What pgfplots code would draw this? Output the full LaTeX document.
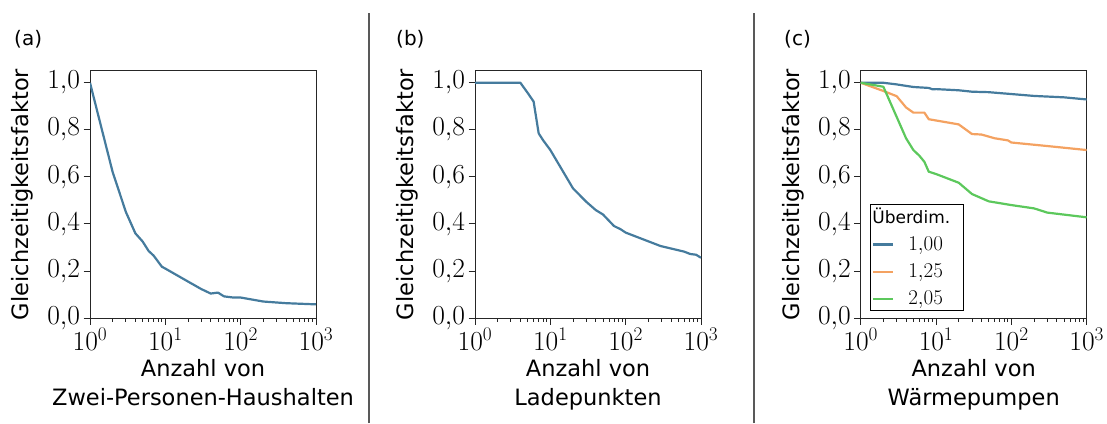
\RequirePackage{fix-cm}
\documentclass[border=0pt]{standalone}
\usepackage{fontspec}
\setmainfont{DejaVu Sans}
\usepackage{pgfplots}
\pgfplotsset{compat=1.18}
\definecolor{cblue}{HTML}{457B9D}
\definecolor{corange}{HTML}{F4A261}
\definecolor{cgreen}{HTML}{5CC85C}

\pgfplotsset{
  every axis/.append style={
    xmode=log, log basis x=10,
    scale only axis, width=226pt, height=247pt,
    xmin=1, xmax=1000, ymin=0, ymax=1.05,
    axis line style={black!85, line width=1pt},
    tick pos=left, tick align=outside,
    major tick length=6.5pt, minor tick length=3.5pt,
    every tick/.style={black!85, line width=0.9pt},
    xtick={1,10,100,1000},
    xticklabels={$10^{0}$,$10^{1}$,$10^{2}$,$10^{3}$},
    minor xtick={2,3,4,5,6,7,8,9,20,30,40,50,60,70,80,90,200,300,400,500,600,700,800,900},
    ytick={0,0.2,0.4,0.6,0.8,1.0},
    yticklabels={$0{,}0$,$0{,}2$,$0{,}4$,$0{,}6$,$0{,}8$,$1{,}0$},
    tick label style={font=\fontsize{27.5}{31}\selectfont},
    label style={font=\fontsize{22.5}{29}\selectfont},
    ylabel={Gleichzeitigkeitsfaktor},
    ylabel style={at={(axis description cs:-0.2987,0.5)}, anchor=center},
    xlabel style={align=center, at={(axis description cs:0.5,0)}, anchor=base, yshift=-87pt},
  },
  every axis plot/.append style={line width=2.2pt, mark=none, line join=round},
}

\begin{document}
\begin{tikzpicture}
\path[use as bounding box] (0,0) rectangle (1107pt,423pt);

\draw[black!65, line width=1.3pt] (369pt,0pt) -- (369pt,410pt);
\draw[black!65, line width=1.3pt] (754pt,0pt) -- (754pt,410pt);

\node[anchor=west, inner sep=0pt, font=\fontsize{20}{24}\selectfont] at (14pt,384pt) {(a)};
\node[anchor=west, inner sep=0pt, font=\fontsize{20}{24}\selectfont] at (396pt,384pt) {(b)};
\node[anchor=west, inner sep=0pt, font=\fontsize{20}{24}\selectfont] at (784pt,384pt) {(c)};

% (a)
\begin{axis}[at={(90pt,105pt)}, anchor=south west,
  xlabel={Anzahl von\\Zwei-Personen-Haushalten}]
\addplot[cblue] coordinates {
(1,1.0) (2,0.62) (3,0.45) (4,0.36) (5,0.325) (6,0.285) (7,0.265) (8,0.24) (9,0.218)
(10,0.21) (20,0.155) (30,0.123) (40,0.104) (50,0.108) (60,0.092) (80,0.087)
(100,0.087) (200,0.07) (400,0.063) (1000,0.058)};
\end{axis}

% (b)
\begin{axis}[at={(475pt,105pt)}, anchor=south west,
  xlabel={Anzahl von\\Ladepunkten}]
\addplot[cblue] coordinates {
(1,1.0) (2,1.0) (3,1.0) (4,1.0) (5,0.957) (6,0.92) (7,0.785) (8,0.756) (10,0.714)
(20,0.551) (30,0.494) (40,0.459) (50,0.44) (70,0.391) (86,0.377) (100,0.363)
(290,0.306) (600,0.282) (720,0.272) (860,0.269) (1000,0.256)};
\end{axis}

% (c)
\begin{axis}[at={(860.7pt,105pt)}, anchor=south west,
  xlabel={Anzahl von\\Wärmepumpen},
  legend style={at={(0.04,0.03)}, anchor=south west, draw=black, line width=0.8pt,
    font=\fontsize{21}{24}\selectfont, row sep=8pt, inner sep=2pt},
  legend cell align=left,
  legend image code/.code={\draw[#1, line width=2.2pt] (0pt,0pt) -- (20pt,0pt);}]
\addlegendimage{empty legend}
\addlegendentry{\hspace{-24pt}{\fontsize{17}{20}\selectfont Überdim.}\hbox to 9pt{}}
\addplot[cblue] coordinates {
(1,1.0) (2,1.0) (3,0.993) (5,0.982) (8,0.978) (9,0.972) (10,0.973) (20,0.968)
(30,0.962) (50,0.96) (100,0.952) (200,0.944) (500,0.938) (1000,0.929)};
\addlegendentry{\hspace{12pt}$1{,}00$}
\addplot[corange] coordinates {
(1,1.0) (2,0.965) (3,0.943) (4,0.895) (5,0.873) (7,0.873) (8,0.845) (20,0.823)
(30,0.782) (40,0.78) (60,0.764) (90,0.755) (100,0.746) (300,0.731) (1000,0.714)};
\addlegendentry{\hspace{12pt}$1{,}25$}
\addplot[cgreen] coordinates {
(1,1.0) (2,0.983) (3,0.855) (4,0.764) (5,0.714) (6,0.69) (7,0.664) (8,0.622)
(10,0.612) (20,0.575) (30,0.527) (50,0.496) (100,0.48) (200,0.466) (300,0.448)
(1000,0.428)};
\addlegendentry{\hspace{12pt}$2{,}05$}
\end{axis}
\end{tikzpicture}
\end{document}
